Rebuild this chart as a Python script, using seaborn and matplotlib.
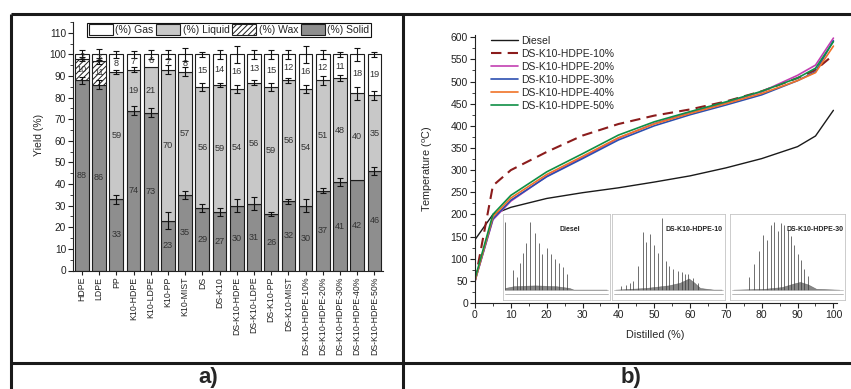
import matplotlib
matplotlib.use("Agg")
import matplotlib.pyplot as plt
from matplotlib.lines import Line2D
from matplotlib.patches import Patch
from matplotlib.ticker import MultipleLocator
import numpy as np
import pandas as pd
import seaborn as sns

# ---------------- panel a data ----------------
samples = ["HDPE", "LDPE", "PP", "K10-HDPE", "K10-LDPE", "K10-PP", "K10-MIST", "DS",
           "DS-K10", "DS-K10-HDPE", "DS-K10-LDPE", "DS-K10-PP", "DS-K10-MIST",
           "DS-K10-HDPE-10%", "DS-K10-HDPE-20%", "DS-K10-HDPE-30%", "DS-K10-HDPE-40%",
           "DS-K10-HDPE-50%"]
solid = [88, 86, 33, 74, 73, 23, 35, 29, 27, 30, 31, 26, 32, 30, 37, 41, 42, 46]
wax = [10, 11, 0, 0, 0, 0, 0, 0, 0, 0, 0, 0, 0, 0, 0, 0, 0, 0]
liquid = [0, 0, 59, 19, 21, 70, 57, 56, 59, 54, 56, 59, 56, 54, 51, 48, 40, 35]
gas = [2, 3, 8, 7, 6, 7, 8, 15, 14, 16, 13, 15, 12, 16, 12, 11, 18, 19]
solid_err = [1.5, 2, 2, 2, 2, 4, 2, 2, 2, 3, 3, 1, 1, 3, 1, 2, 0, 2]
mid_err = [1, 1.5, 1, 1, 0, 2, 2, 2, 1, 2, 1, 2, 1, 2, 2, 1.5, 3, 2]
top_err = [2, 2.5, 1.5, 1.5, 2, 2, 3, 1, 2, 4, 2, 2, 2, 4, 2, 1, 3, 1]
legend_a = ["(%) Gas", "(%) Liquid", "(%) Wax", "(%) Solid"]

# ---------------- panel b data ----------------
distilled = [0, 5, 10, 20, 30, 40, 50, 60, 70, 80, 90, 95, 100]
t_diesel = [143, 200, 216, 236, 249, 260, 273, 287, 305, 326, 353, 377, 435]
t_10 = [50, 265, 300, 341, 378, 404, 423, 437, 455, 478, 508, 526, 560]
t_20 = [50, 188, 230, 286, 328, 372, 405, 430, 452, 477, 514, 537, 598]
t_30 = [50, 190, 232, 285, 326, 368, 400, 425, 447, 470, 502, 522, 592]
t_40 = [50, 195, 237, 290, 331, 373, 404, 428, 450, 473, 502, 520, 580]
t_50 = [55, 200, 243, 296, 337, 379, 409, 432, 454, 478, 508, 530, 590]
series_names = ["Diesel", "DS-K10-HDPE-10%", "DS-K10-HDPE-20%", "DS-K10-HDPE-30%",
                "DS-K10-HDPE-40%", "DS-K10-HDPE-50%"]

# chromatogram insets (peak positions / heights as fractions of inset)
diesel_px = [0.018, 0.09, 0.128, 0.16, 0.19, 0.215, 0.252, 0.299, 0.333, 0.368, 0.408,
             0.449, 0.486, 0.526, 0.564, 0.595]
diesel_ph = [0.91, 0.35, 0.27, 0.43, 0.55, 0.66, 0.91, 0.78, 0.66, 0.54, 0.60, 0.53,
             0.48, 0.43, 0.38, 0.30]
diesel_hx = [0.02, 0.1, 0.3, 0.5, 0.62, 0.66, 0.97]
diesel_hy = [0.14, 0.16, 0.17, 0.16, 0.14, 0.12, 0.12]
h10_px = [0.08, 0.12, 0.16, 0.19, 0.23, 0.27, 0.30, 0.34, 0.37, 0.41, 0.445, 0.478,
          0.507, 0.54, 0.58, 0.616, 0.646, 0.675, 0.72, 0.76]
h10_ph = [0.16, 0.18, 0.2, 0.22, 0.4, 0.795, 0.68, 0.765, 0.64, 0.55, 0.955, 0.455,
          0.40, 0.36, 0.34, 0.32, 0.30, 0.30, 0.26, 0.2]
h10_hx = [0.03, 0.3, 0.5, 0.6, 0.68, 0.73, 0.78, 0.9, 0.97]
h10_hy = [0.12, 0.14, 0.17, 0.2, 0.25, 0.2, 0.14, 0.12, 0.12]
h30_px = [0.116, 0.168, 0.212, 0.255, 0.29, 0.325, 0.357, 0.386, 0.415, 0.443, 0.472,
          0.502, 0.53, 0.559, 0.588, 0.617, 0.646, 0.675]
h30_ph = [0.12, 0.27, 0.42, 0.57, 0.76, 0.70, 0.87, 0.91, 0.80, 0.89, 0.87, 0.81, 0.74,
          0.64, 0.53, 0.46, 0.36, 0.28]
h30_hx = [0.03, 0.3, 0.45, 0.55, 0.61, 0.68, 0.75, 0.95]
h30_hy = [0.12, 0.13, 0.15, 0.19, 0.21, 0.18, 0.13, 0.12]

# ---------------- style ----------------
sns.set_style("ticks")
plt.rcParams["font.family"] = ["Liberation Sans", "DejaVu Sans"]
plt.rcParams["mathtext.fontset"] = "custom"
plt.rcParams["mathtext.rm"] = "Liberation Sans"
plt.rcParams["mathtext.it"] = "Liberation Sans"
plt.rcParams["axes.edgecolor"] = "#222222"
plt.rcParams["axes.linewidth"] = 0.8
plt.rcParams["xtick.color"] = "#222222"
plt.rcParams["ytick.color"] = "#222222"
plt.rcParams["hatch.linewidth"] = 0.7

SOLID = "#8e8e8e"
LIQ = "#c8c8c8"
EDGE = "#1e1e1e"

W, H = 851, 389
fig = plt.figure(figsize=(W / 100, H / 100), dpi=100)


def fx(px):
    return px / W


def fy(py):
    return 1 - py / H


# ---------------- frame ----------------
for (x0, y0, x1, y1) in [(11, 14, 851, 14), (11, 14, 11, 389), (403, 14, 403, 389),
                         (11, 363, 851, 363)]:
    fig.add_artist(Line2D([fx(x0), fx(x1)], [fy(y0), fy(y1)], transform=fig.transFigure,
                          color="#1a1a1a", lw=2.2, solid_capstyle="butt"))

# ---------------- panel a ----------------
axa = fig.add_axes([fx(73), fy(270.5), fx(383) - fx(73), fy(22) - fy(270.5)])
df = pd.DataFrame({"sample": samples, "solid": solid, "wax": wax, "liquid": liquid,
                   "gas": gas})
s = np.array(solid, float)
w_ = np.array(wax, float)
l_ = np.array(liquid, float)
g_ = np.array(gas, float)
b_wax = s
b_liq = s + w_
b_gas = b_liq + l_

common = dict(data=df, x="sample", order=samples, width=0.8, saturation=1,
              edgecolor=EDGE, linewidth=0.8, errorbar=None, ax=axa)
sns.barplot(y="solid", color=SOLID, **common)
sns.barplot(y="wax", bottom=b_wax, color="white", hatch="//////", **common)
sns.barplot(y="liquid", bottom=b_liq, color=LIQ, **common)
sns.barplot(y="gas", bottom=b_gas, color="white", **common)

xpos = np.arange(len(samples))


def eb(y, e):
    e = np.array(e, float)
    m = e > 0
    axa.errorbar(xpos[m], np.asarray(y)[m], yerr=e[m], fmt="none", ecolor="#111111",
                 elinewidth=0.8, capsize=2.5, capthick=0.8, zorder=5)


eb(s, solid_err)
eb(b_gas, mid_err)
eb(b_gas + g_, top_err)

for i in range(len(samples)):
    for bot, val in [(0, solid[i]), (b_wax[i], wax[i]), (b_liq[i], liquid[i]),
                     (b_gas[i], gas[i])]:
        if val > 0:
            axa.text(i, bot + val / 2, f"{val}", ha="center", va="center",
                     fontsize=6.6, color="#333333", zorder=6)

axa.set_xlim(-0.52, 17.5)
axa.yaxis.set_major_locator(MultipleLocator(10))
axa.yaxis.set_minor_locator(MultipleLocator(5))
axa.set_yticks(np.arange(0, 111, 10))
axa.set_ylim(0, 115)
axa.set_xlabel("")
axa.set_ylabel("Yield (%)", fontsize=7.5)
axa.yaxis.set_label_coords(-0.095, 0.545)
axa.tick_params(axis="x", labelrotation=90, labelsize=6.3, length=3, width=0.8, pad=1.5)
axa.tick_params(axis="y", which="major", labelsize=7.3, length=3.5, width=0.8, pad=1.5)
axa.tick_params(axis="y", which="minor", length=2, width=0.6)
sns.despine(ax=axa)

handles = [Patch(facecolor="white", edgecolor=EDGE, lw=0.8, label=legend_a[0]),
           Patch(facecolor=LIQ, edgecolor=EDGE, lw=0.8, label=legend_a[1]),
           Patch(facecolor="white", edgecolor=EDGE, lw=0.8, hatch="//////", label=legend_a[2]),
           Patch(facecolor=SOLID, edgecolor=EDGE, lw=0.8, label=legend_a[3])]
leg = axa.legend(handles=handles, ncol=4, loc="upper left",
                 bbox_to_anchor=(fx(87), fy(22.5)), bbox_transform=fig.transFigure,
                 frameon=True, fancybox=False, edgecolor="#111111", framealpha=1,
                 handlelength=2.3, handleheight=1.25, handletextpad=0.25,
                 columnspacing=0.25, borderpad=0.15, borderaxespad=0, fontsize=7.5)
leg.get_frame().set_linewidth(0.8)

# ---------------- panel b ----------------
axb = fig.add_axes([fx(475), fy(303), fx(837) - fx(475), fy(35) - fy(303)])
temps = [t_diesel, t_10, t_20, t_30, t_40, t_50]
colors = ["#1a1a1a", "#8b1c1c", "#c23fb2", "#2c4fb0", "#f07328", "#0f8f45"]
styles = ["-", (0, (5, 3)), "-", "-", "-", "-"]
widths = [1.0, 1.5, 1.2, 1.2, 1.2, 1.2]
for name, t, c, ls, lw in zip(series_names, temps, colors, styles, widths):
    sns.lineplot(x=distilled, y=t, color=c, linestyle=ls, lw=lw, label=name, ax=axb,
                 errorbar=None, sort=False)

axb.set_xlim(0, 101)
axb.set_ylim(0, 605)
axb.xaxis.set_major_locator(MultipleLocator(10))
axb.xaxis.set_minor_locator(MultipleLocator(5))
axb.yaxis.set_major_locator(MultipleLocator(50))
axb.yaxis.set_minor_locator(MultipleLocator(25))
axb.tick_params(which="major", labelsize=7.5, length=3.5, width=0.8, pad=1.5)
axb.tick_params(which="minor", length=2, width=0.6)
axb.set_xlabel("Distilled (%)", fontsize=7.8, va="top")
axb.xaxis.set_label_coords(0.497, -0.1)
axb.set_ylabel(r"Temperature ($^{\mathrm{o}}$C)", fontsize=7.8)
axb.yaxis.set_label_coords(-0.11, 0.5)
sns.despine(ax=axb)
legb = axb.legend(loc="upper left", bbox_to_anchor=(fx(491), fy(36)),
                  bbox_transform=fig.transFigure, frameon=False, fontsize=7.5,
                  handlelength=2.6, labelspacing=0.28, handletextpad=0.3,
                  borderaxespad=0, borderpad=0)


def chrom(x0, x1, px, ph, hx, hy, label, lx):
    ax = fig.add_axes([fx(x0), fy(300), fx(x1) - fx(x0), fy(214) - fy(300)])
    ax.set_xlim(0, 1)
    ax.set_ylim(0, 1)
    ax.set_facecolor("white")
    ax.set_xticks([])
    ax.set_yticks([])
    for sp in ax.spines.values():
        sp.set_color("#c4c4c4")
        sp.set_linewidth(0.6)
    ax.fill_between(hx, 0.12, hy, color="#555555", alpha=0.7, lw=0.4)
    ax.vlines(px, 0.12, ph, color="#3a3a3a", lw=0.6, alpha=0.85)
    ax.plot([0.02, 0.98], [0.07, 0.07], color="#9a9a9a", lw=0.5)
    ax.plot([0.02, 0.98], [0.12, 0.12], color="#b0b0b0", lw=0.5)
    ax.text(lx, 0.82, label, ha="right", va="center", fontsize=5, fontweight="bold",
            color="#222222")
    return ax


chrom(503, 610, diesel_px, diesel_ph, diesel_hx, diesel_hy, "Diesel", 0.72)
chrom(612, 725, h10_px, h10_ph, h10_hx, h10_hy, "DS-K10-HDPE-10", 0.98)
chrom(730, 845, h30_px, h30_ph, h30_hx, h30_hy, "DS-K10-HDPE-30", 0.99)

# ---------------- panel labels ----------------
for lbl, xc in [("a)", 208), ("b)", 631)]:
    fig.text(fx(xc), fy(383), lbl, ha="center", va="baseline", fontsize=16,
             fontweight="bold", family=["Liberation Sans Narrow", "Liberation Sans"])

fig.savefig("out.png", dpi=100)
